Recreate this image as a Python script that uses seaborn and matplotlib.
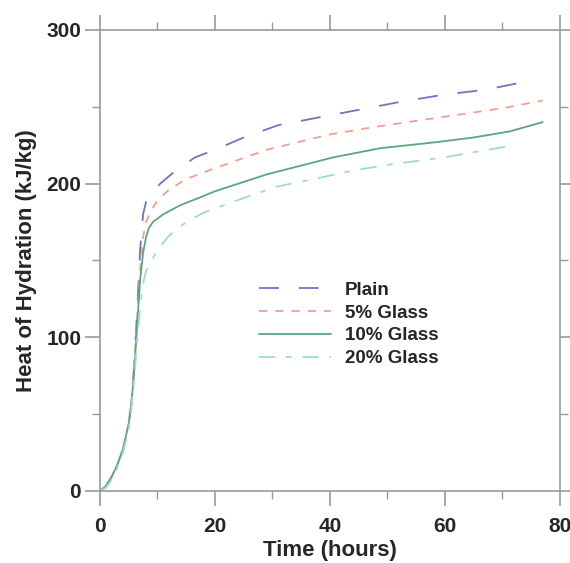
import numpy as np
import pandas as pd
import matplotlib
matplotlib.use("Agg")
import matplotlib.pyplot as plt
import seaborn as sns

# ---- data ----
plain_t = [0, 1, 2, 3, 4, 5, 5.5, 6, 6.5, 7, 7.5, 8, 9, 10.5, 12.7, 16.5, 20, 25, 31, 38, 45, 52, 60, 67, 73.6]
plain_q = [0, 3, 9, 17, 27, 43, 58, 85, 120, 158, 180, 188, 194, 200, 207, 217, 222, 230, 238, 243, 248, 253, 258, 261, 266]

g5_t = [0, 1, 2, 3, 4, 5, 5.5, 6, 6.5, 7, 7.5, 8, 9, 10, 12, 15, 20, 29, 40, 48, 59, 70, 77]
g5_q = [0, 3, 9, 17, 27, 44, 60, 85, 115, 145, 165, 175, 183, 189, 196, 203, 210, 222, 232, 237, 243, 249, 254]

g10_t = [0, 1, 2, 3, 4, 5, 5.5, 6, 6.5, 7, 7.5, 8, 8.5, 9.2, 11, 14, 17.4, 20, 29, 40.5, 48.7, 58.6, 65, 71.3, 77]
g10_q = [0, 3, 9, 17, 27, 44, 58, 80, 110, 138, 155, 165, 171, 175, 180, 186, 191, 195, 206, 217, 223, 227, 230, 234, 240]

g20_t = [0, 1, 2, 3, 4, 5, 5.5, 6, 6.5, 7, 7.5, 8, 9, 10, 12, 15, 18, 23, 30.7, 36, 44.7, 51.6, 59.7, 69, 72]
g20_q = [0, 2, 7, 15, 25, 40, 55, 75, 100, 120, 135, 143, 150, 157, 166, 175, 181, 188, 198, 202, 209, 213, 217, 223, 225]

series_names = ["Plain", "5% Glass", "10% Glass", "20% Glass"]
series_t = [plain_t, g5_t, g10_t, g20_t]
series_q = [plain_q, g5_q, g10_q, g20_q]

x_ticks = [0, 20, 40, 60, 80]
y_ticks = [0, 100, 200, 300]

colors = ["#6f73c4", "#f2a08c", "#5ba77c", "#9fdad2"]
dashes = [(11, 11), (4.5, 4.5), "", (9, 6, 3, 6)]

frames = []
for name, t, q in zip(series_names, series_t, series_q):
    frames.append(pd.DataFrame({"Time": t, "Heat": q, "Mix": name}))
df = pd.concat(frames, ignore_index=True)

sns.set_style("ticks")
plt.rcParams["font.family"] = ["Liberation Sans", "DejaVu Sans"]

fig = plt.figure(figsize=(5.70, 5.63), dpi=100)
ax = fig.add_axes([0.1754, 0.1279, 0.807, 0.819])

sns.lineplot(data=df, x="Time", y="Heat", hue="Mix", style="Mix",
             hue_order=series_names, style_order=series_names,
             palette=colors, dashes=dashes, linewidth=1.3, sort=False,
             estimator=None, ax=ax)

ax.set_xlim(0, 80)
ax.set_ylim(0, 300)
ax.set_xticks(x_ticks)
ax.set_yticks(y_ticks)
ax.set_xticks([10, 30, 50, 70], minor=True)
ax.set_yticks([50, 150, 250], minor=True)
ax.tick_params(which="both", direction="out", color="#999999",
               top=True, right=True, labeltop=False, labelright=False)
ax.tick_params(which="major", length=10.5, width=1.2, labelsize=15)
ax.tick_params(which="minor", length=6, width=1.0)
ax.tick_params(axis="x", which="major", pad=8)
ax.tick_params(axis="y", which="major", pad=3)
for lab in ax.get_xticklabels() + ax.get_yticklabels():
    lab.set_fontweight("bold")
for sp in ax.spines.values():
    sp.set_color("#999999")
    sp.set_linewidth(1.2)

ax.set_xlabel("Time (hours)", fontsize=16, fontweight="bold", labelpad=3)
ax.set_ylabel("Heat of Hydration (kJ/kg)", fontsize=16, fontweight="bold", labelpad=7)

leg = ax.legend(loc="upper left", bbox_to_anchor=(0.33, 0.47), frameon=False,
                handlelength=3.85, handletextpad=0.7, labelspacing=0.3,
                prop={"size": 13.5, "weight": "bold"}, borderaxespad=0)

fig.savefig("out.png", dpi=100)
